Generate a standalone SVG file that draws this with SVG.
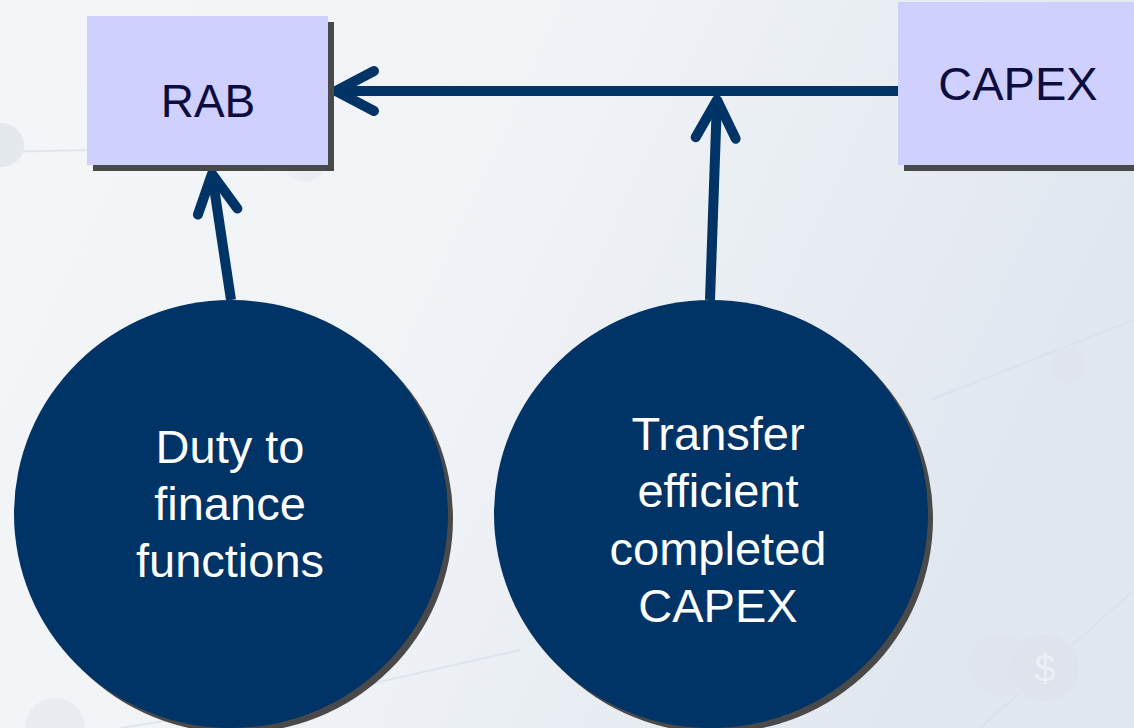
<svg xmlns="http://www.w3.org/2000/svg" width="1134" height="728" viewBox="0 0 1134 728">
  <defs>
    <linearGradient id="bg" x1="0" y1="0" x2="1" y2="0.3">
      <stop offset="0" stop-color="#f3f5f8"/>
      <stop offset="0.45" stop-color="#f1f4f7"/>
      <stop offset="1" stop-color="#e1e7ef"/>
    </linearGradient>
    <filter id="soft" x="-10%" y="-10%" width="120%" height="120%">
      <feGaussianBlur stdDeviation="0.6"/>
    </filter>
    <marker id="chev" markerUnits="userSpaceOnUse" viewBox="-50 -30 60 60" markerWidth="60" markerHeight="60" refX="0" refY="0" orient="auto" overflow="visible">
      <path d="M -38 -20 L 0 0 L -38 20" fill="none" stroke="#003366" stroke-width="10" stroke-linecap="round" stroke-linejoin="round"/>
    </marker>
    <style>
      .box { fill: #d0d0ff; }
      .shadow { fill: #4a4a4a; filter: url(#soft); }
      .disc { fill: #003366; }
      .boxlabel { font-family: "Liberation Sans", Arial, sans-serif; font-size: 46px; fill: #0d0d3f; text-anchor: middle; }
      .disclabel { font-family: "Liberation Sans", Arial, sans-serif; font-size: 47px; fill: #ffffff; text-anchor: middle; }
      .link { fill: none; stroke: #003366; stroke-width: 10; marker-end: url(#chev); }
      .deco { fill: none; stroke: #d9e0e8; stroke-width: 2; }
      .coin { fill: #dfe4eb; }
    </style>
  </defs>

  <!-- backdrop -->
  <rect width="1134" height="728" fill="url(#bg)"/>
  <g id="backdrop-decor" opacity="0.7">
    <path class="deco" d="M 0 152 L 90 150"/>
    <path class="deco" d="M 930 400 L 1134 320"/>
    <path class="deco" d="M 980 728 L 1134 590"/>
    <path class="deco" d="M 120 728 L 300 700 L 520 650"/>
    <circle class="coin" cx="2" cy="145" r="22"/>
    <circle class="coin" cx="305" cy="160" r="22" opacity="0.6"/>
    <circle class="coin" cx="1068" cy="365" r="18" opacity="0.7"/>
    <circle class="coin" cx="1000" cy="665" r="32" opacity="0.5"/>
    <circle class="coin" cx="1045" cy="668" r="34"/>
    <text x="1045" y="682" font-family="Liberation Sans, Arial, sans-serif" font-size="38" fill="#f2f4f7" text-anchor="middle">$</text>
    <circle class="coin" cx="55" cy="728" r="30" opacity="0.7"/>
  </g>

  <!-- connectors -->
  <g id="connectors">
    <path class="link" d="M 898 91 L 336 91"/>
    <path class="link" d="M 710 300 L 717 100"/>
    <path class="link" d="M 231 300 L 212 174"/>
  </g>

  <!-- RAB box -->
  <g id="node-rab">
    <rect class="shadow" x="93" y="22" width="241" height="149"/>
    <rect class="box" x="87" y="16" width="241" height="149"/>
    <text class="boxlabel" x="208" y="117">RAB</text>
  </g>

  <!-- CAPEX box -->
  <g id="node-capex">
    <rect class="shadow" x="904" y="8" width="240" height="163"/>
    <rect class="box" x="898" y="2" width="240" height="163"/>
    <text class="boxlabel" x="1018" y="100" style="font-size:47px">CAPEX</text>
  </g>

  <!-- Duty to finance functions -->
  <g id="node-duty">
    <ellipse class="shadow" cx="236" cy="519" rx="217" ry="214"/>
    <ellipse class="disc" cx="231" cy="514" rx="217" ry="214"/>
    <text class="disclabel" x="230" y="463">Duty to</text>
    <text class="disclabel" x="230" y="520">finance</text>
    <text class="disclabel" x="230" y="577">functions</text>
  </g>

  <!-- Transfer efficient completed CAPEX -->
  <g id="node-transfer">
    <ellipse class="shadow" cx="716" cy="519" rx="217" ry="214"/>
    <ellipse class="disc" cx="711" cy="514" rx="217" ry="214"/>
    <text class="disclabel" x="718" y="450">Transfer</text>
    <text class="disclabel" x="718" y="507">efficient</text>
    <text class="disclabel" x="718" y="565">completed</text>
    <text class="disclabel" x="718" y="622">CAPEX</text>
  </g>
</svg>
